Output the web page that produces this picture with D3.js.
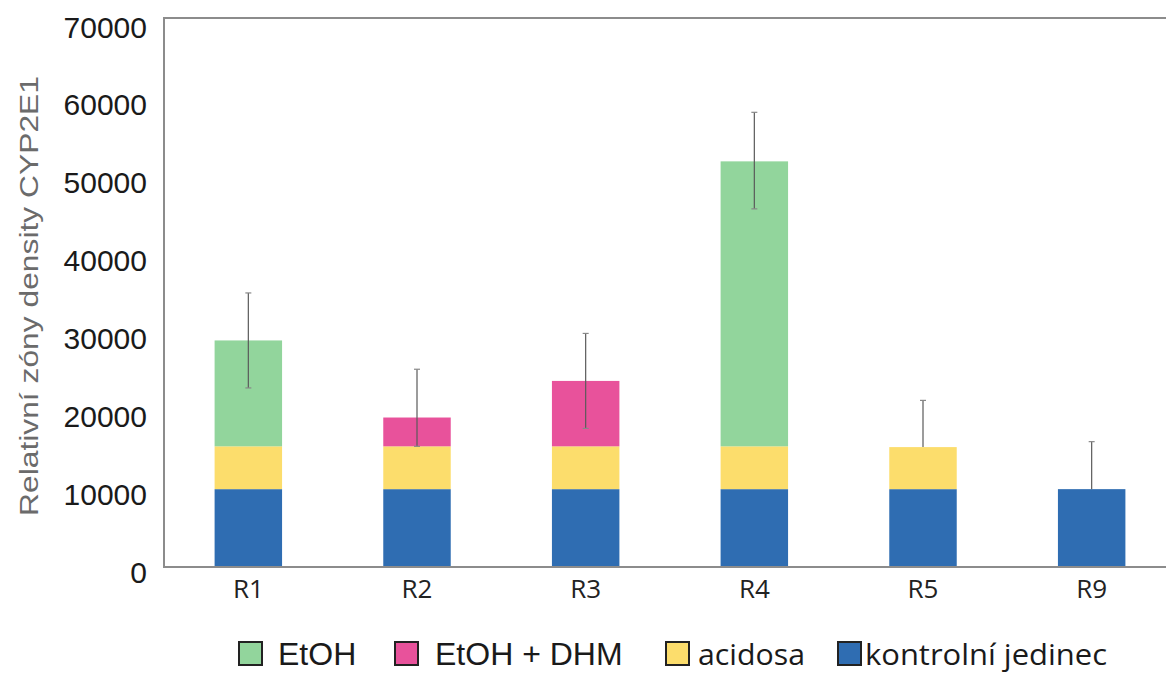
<!DOCTYPE html>
<html>
<head>
<meta charset="utf-8">
<script src="https://cdn.jsdelivr.net/npm/d3@7"></script>
<style>
  html, body { margin: 0; padding: 0; background: #fff; }
  svg { display: block; }
</style>
</head>
<body>
<svg id="chart" width="1166" height="674"></svg>
<script>
// Skupiny (osa x)
const categories = ["R1", "R2", "R3", "R4", "R5", "R9"];

// Složky skládaných sloupců, odspodu nahoru
const kontrolni = [10000, 10000, 10000, 10000, 10000, 10000];
const acidosa   = [5500, 5500, 5500, 5500, 5400, 0];
const etohDhm   = [0, 3700, 8400, 0, 0, 0];
const etoh      = [13600, 0, 0, 36600, 0, 0];

// Chybové úsečky (nahoru / dolů od vrcholu sloupce)
const errPlus  = [6100, 6200, 6100, 6300, 6000, 6100];
const errMinus = [6100, 3700, 6100, 6100, 0, 0];

const yTicks = [0, 10000, 20000, 30000, 40000, 50000, 60000, 70000];

const seriesKeys   = ["kontrolni", "acidosa", "etohDhm", "etoh"];
const seriesColors = { kontrolni: "#2f6db2", acidosa: "#fcdd6c", etohDhm: "#e8529b", etoh: "#92d59c" };

const legendItems = [
  { key: "etoh",      label: "EtOH",              font: "Liberation Sans, Arial, sans-serif", size: 32, len: null },
  { key: "etohDhm",   label: "EtOH + DHM",        font: "Liberation Sans, Arial, sans-serif", size: 32, len: null },
  { key: "acidosa",   label: "acidosa",           font: "Open Sans, sans-serif", size: 30, len: 107 },
  { key: "kontrolni", label: "kontrolní jedinec", font: "Open Sans, sans-serif", size: 30, len: 242 }
];

const rows = categories.map((c, i) => ({
  cat: c,
  kontrolni: kontrolni[i],
  acidosa: acidosa[i],
  etohDhm: etohDhm[i],
  etoh: etoh[i],
  plus: errPlus[i],
  minus: errMinus[i]
}));

const svg = d3.select("#chart");

const plotLeft = 164, plotRight = 1176, plotTop = 18, plotBottom = 567;

const x = d3.scaleBand()
  .domain(categories)
  .range([plotLeft, plotRight])
  .paddingInner(0.6)
  .paddingOuter(0.3);

const y = d3.scaleLinear()
  .domain([0, 70000])
  .range([plotBottom, 22]);

const stacked = d3.stack().keys(seriesKeys)(rows);

// Sloupce
svg.append("g")
  .selectAll("g")
  .data(stacked)
  .join("g")
  .attr("fill", d => seriesColors[d.key])
  .selectAll("rect")
  .data(d => d)
  .join("rect")
  .attr("x", d => x(d.data.cat))
  .attr("width", x.bandwidth())
  .attr("y", d => y(d[1]))
  .attr("height", d => y(d[0]) - y(d[1]));

// Chybové úsečky
const totals = rows.map(r => r.kontrolni + r.acidosa + r.etohDhm + r.etoh);
const eg = svg.append("g").attr("stroke", "#5a5a5a").attr("stroke-width", 1.2);
rows.forEach((r, i) => {
  const cx = x(r.cat) + x.bandwidth() / 2;
  const t = totals[i];
  eg.append("line")
    .attr("x1", cx).attr("x2", cx)
    .attr("y1", y(t + r.plus)).attr("y2", y(t - r.minus));
  eg.append("line")
    .attr("x1", cx - 3).attr("x2", cx + 3)
    .attr("y1", y(t + r.plus)).attr("y2", y(t + r.plus))
    .attr("stroke", "#888");
  if (r.minus > 0) {
    eg.append("line")
      .attr("x1", cx - 3).attr("x2", cx + 3)
      .attr("y1", y(t - r.minus)).attr("y2", y(t - r.minus))
      .attr("stroke", "#888");
  }
});

// Rámeček: levá osa, horní a spodní linka
const frame = svg.append("g").attr("stroke", "#8c8c8c").attr("stroke-width", 2).attr("fill", "none");
frame.append("line").attr("x1", plotLeft).attr("x2", 1166).attr("y1", plotTop).attr("y2", plotTop);
frame.append("line").attr("x1", plotLeft).attr("x2", plotLeft).attr("y1", plotTop - 1).attr("y2", plotBottom + 1);
frame.append("line").attr("x1", plotLeft - 1).attr("x2", 1166).attr("y1", plotBottom).attr("y2", plotBottom);

// Osa y – popisky
const yAxis = d3.axisLeft(y).tickValues(yTicks).tickSize(0).tickPadding(17).tickFormat(d3.format("d"));
const yg = svg.append("g").attr("transform", `translate(${plotLeft},0)`).call(yAxis);
yg.select(".domain").remove();
yg.selectAll("text")
  .attr("font-family", "Liberation Sans, Arial, sans-serif")
  .attr("font-size", 30)
  .attr("fill", "#1a1a1a")
  .attr("dy", "0.5em");

// Osa x – popisky
const xAxis = d3.axisBottom(x).tickSize(0).tickPadding(13);
const xg = svg.append("g").attr("transform", `translate(0,${plotBottom})`).call(xAxis);
xg.select(".domain").remove();
xg.selectAll("text")
  .attr("font-family", "Open Sans, sans-serif")
  .attr("font-size", 26)
  .attr("fill", "#222");

// Název osy y
svg.append("text")
  .attr("transform", "translate(38,296) rotate(-90)")
  .attr("text-anchor", "middle")
  .attr("font-family", "Liberation Sans, Arial, sans-serif")
  .attr("font-size", 25)
  .attr("fill", "#6b6b6b")
  .attr("textLength", 440)
  .attr("lengthAdjust", "spacingAndGlyphs")
  .text("Relativní zóny density CYP2E1");

// Legenda
const legendX = [238, 394, 665, 837];
const textX   = [278, 435, 698, 865];
const lg = svg.append("g");
legendItems.forEach((it, i) => {
  lg.append("rect")
    .attr("x", legendX[i] + 1).attr("y", 642)
    .attr("width", 23).attr("height", 23)
    .attr("fill", seriesColors[it.key])
    .attr("stroke", "#222").attr("stroke-width", 2);
  const t = lg.append("text")
    .attr("x", textX[i]).attr("y", 665)
    .attr("font-family", it.font)
    .attr("font-size", it.size)
    .attr("fill", "#1a1a1a")
    .text(it.label);
  if (it.len) t.attr("textLength", it.len).attr("lengthAdjust", "spacingAndGlyphs");
});
</script>
</body>
</html>
